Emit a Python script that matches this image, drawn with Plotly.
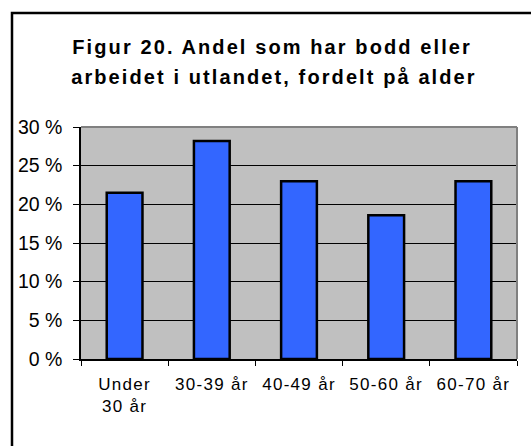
import plotly.graph_objects as go

categories = ["Under<br>30 år", "30-39 år", "40-49 år", "50-60 år", "60-70 år"]
values = [21.5, 28.2, 23.0, 18.6, 23.0]
tick_vals = [0, 5, 10, 15, 20, 25, 30]
tick_text = ["0 %", "5 %", "10 %", "15 %", "20 %", "25 %", "30 %"]
title_lines = ["Figur 20. Andel som har bodd eller",
               "arbeidet i utlandet, fordelt på alder"]

W, H = 531, 446
L, R, T, B = 81, 14, 127, 87
pw, ph = W - L - R, H - T - B

def px(x):
    return (x - L) / pw

def py(y):
    return (H - B - y) / ph

fig = go.Figure(go.Bar(
    x=categories, y=values,
    marker=dict(color="#3366FF", line=dict(color="black", width=2.5)),
    width=0.41,
))

fig.update_layout(
    width=W, height=H,
    margin=dict(l=L, r=R, t=T, b=B),
    paper_bgcolor="white",
    plot_bgcolor="#C0C0C0",
    showlegend=False,
    font=dict(family="Liberation Sans, Arial", color="black"),
    xaxis=dict(
        type="category", tickson="boundaries", ticks="outside", ticklen=5,
        tickcolor="black", showline=True, linecolor="black", linewidth=1.5,
        showgrid=False, tickfont=dict(size=17), mirror=False,
        ticklabelstandoff=9,
    ),
    yaxis=dict(
        range=[0, 30], tickvals=tick_vals, ticktext=tick_text,
        ticks="outside", ticklen=6, tickcolor="black",
        showline=True, linecolor="black", linewidth=1.5,
        showgrid=True, gridcolor="black", gridwidth=1,
        tickfont=dict(size=19.5), zeroline=False, ticklabelstandoff=7,
    ),
    shapes=[
        dict(type="line", xref="paper", yref="paper", x0=0, x1=1, y0=1, y1=1,
             line=dict(color="#808080", width=2)),
        dict(type="line", xref="paper", yref="paper", x0=1, x1=1, y0=0, y1=1,
             line=dict(color="#808080", width=2)),
        dict(type="rect", xref="paper", yref="paper",
             x0=px(12), x1=px(545), y0=py(460), y1=py(13),
             line=dict(color="black", width=2.5), layer="above"),
    ],
    annotations=[
        dict(text="<b>" + title_lines[0] + "</b>", xref="paper", yref="paper",
             x=px(272), y=py(47), xanchor="center", yanchor="middle",
             showarrow=False, font=dict(size=20, color="black")),
        dict(text="<b>" + title_lines[1] + "</b>", xref="paper", yref="paper",
             x=px(274), y=py(77), xanchor="center", yanchor="middle",
             showarrow=False, font=dict(size=20, color="black")),
    ],
)

post = """
document.body.style.margin = '0';
var gd = document.getElementById('{plot_id}');
function sp() {
  gd.querySelectorAll('.annotation-text').forEach(function(e){ e.style.letterSpacing = '2.1px'; });
  gd.querySelectorAll('.xtick text').forEach(function(e){ e.style.letterSpacing = '1.3px'; });
}
sp();
gd.on('plotly_afterplot', sp);
"""

fig.write_html("out.html", post_script=post, config={"displayModeBar": False})
